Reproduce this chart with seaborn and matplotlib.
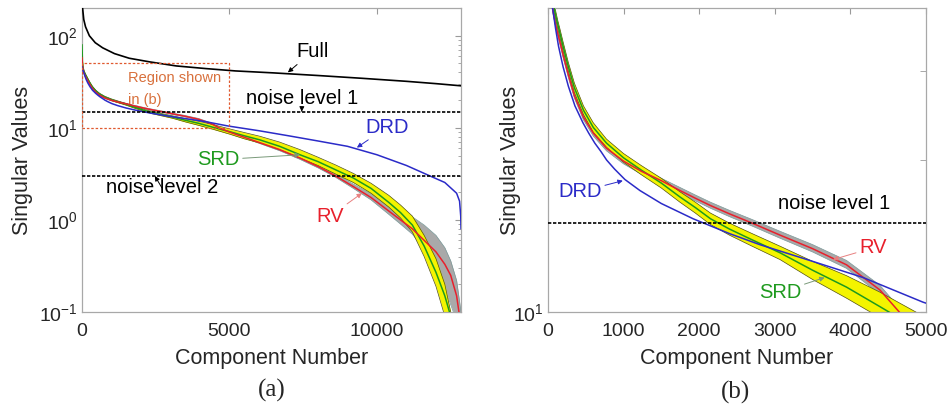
import matplotlib
matplotlib.use("Agg")
import matplotlib.pyplot as plt
import seaborn as sns
from matplotlib.ticker import NullFormatter, FixedLocator, LogLocator
from matplotlib.patches import Rectangle

sns.set_style("white")
plt.rcParams['font.family'] = ['Liberation Sans', 'DejaVu Sans']
plt.rcParams['mathtext.default'] = 'regular'
plt.rcParams['axes.unicode_minus'] = False

# ---- data ----
full_x = [0, 20, 60, 120, 250, 450, 700, 1100, 1600, 2300, 3200, 4200, 5200,
          6500, 8000, 9500, 11000, 12000, 12850]
full_y = [260, 200, 150, 125, 100, 84, 74, 64, 57, 52, 47, 44, 41.5,
          39.5, 37, 34.5, 32, 30.2, 28.6]

drd_x = [0, 20, 40, 66, 100, 140, 200, 270, 357, 463, 540, 620, 700, 776, 880,
         1018, 1217, 1500, 1920, 2400, 2800, 3500, 4170, 4960, 6000, 7000, 8000,
         9000, 10000, 11000, 11800, 12300, 12700, 12800, 12840, 12850]
drd_y = [46, 43.5, 41.5, 39.6, 36.5, 33.6, 30.6, 28.0, 25.6, 23.7, 22.6, 21.6, 20.8, 20.0, 19.2,
         18.3, 17.4, 16.4, 15.3, 14.3, 13.6, 12.6, 11.7, 10.46, 9.3, 8.2, 7.2,
         6.3, 5.1, 3.9, 3.0, 2.55, 1.95, 1.6, 1.1, 0.8]

# SRD / RV share one component grid
cx = [0, 15, 30, 50, 66, 100, 130, 160, 200, 270, 350, 470, 600, 775, 1000,
      1235, 1500, 1746, 1950, 2150, 2400, 2700, 3070, 3500, 3950, 4390, 4660,
      5000, 5500, 6030, 6700, 7390, 8000, 8600, 9200, 9800, 10400, 10800,
      11200, 11600, 12000, 12300, 12500, 12700, 12850]
srd_y = [80, 52, 46, 43, 41, 38.8, 37.1, 35.6, 33.6, 30.6, 27.8, 25.1, 23.2, 21.6, 20.2,
         19.1, 18.0, 16.9, 16.1, 15.3, 14.6, 13.9, 13.1, 12.1, 11.2, 10.25, 9.7,
         9.1, 8.2, 7.4, 6.3, 5.1, 4.3, 3.5, 2.85, 2.2, 1.55, 1.2,
         0.88, 0.52, 0.27, 0.15, 0.09, 0.05, 0.03]
srd_lo = [62, 49, 44.5, 42, 40.2, 38.1, 36.4, 34.9, 32.9, 30.0, 27.2, 24.6, 22.7, 21.2, 19.8,
          18.7, 17.6, 16.5, 15.7, 14.9, 14.2, 13.5, 12.7, 11.6, 10.65, 9.75, 9.2,
          8.55, 7.6, 6.85, 5.8, 4.7, 3.9, 3.15, 2.55, 1.95, 1.38, 1.05,
          0.74, 0.4, 0.19, 0.09, 0.05, 0.03, 0.02]
srd_hi = [88, 55, 47.5, 44, 41.8, 39.6, 37.8, 36.3, 34.3, 31.2, 28.4, 25.6, 23.7, 22.0, 20.6,
          19.5, 18.4, 17.3, 16.5, 15.7, 15.0, 14.3, 13.5, 12.6, 11.8, 10.95, 10.4,
          9.75, 8.9, 8.1, 7.0, 5.8, 4.8, 3.95, 3.2, 2.5, 1.85, 1.45,
          1.1, 0.68, 0.38, 0.2, 0.1, 0.06, 0.04]
rv_y = [58, 48, 44, 41, 39.5, 37.2, 35.6, 34.2, 32.3, 29.5, 26.8, 24.3, 22.6, 21.1, 19.9,
        19.0, 18.2, 17.4, 16.8, 16.25, 15.65, 15.0, 14.2, 13.35, 12.4, 11.06, 9.95,
        9.0, 7.9, 6.9, 5.8, 4.7, 3.8, 3.0, 2.3, 1.75, 1.25, 1.0,
        0.8, 0.6, 0.45, 0.33, 0.25, 0.15, 0.07]
rv_lo = [57, 47.4, 43.5, 40.5, 39.0, 36.8, 35.2, 33.8, 31.9, 29.1, 26.5, 24.0, 22.3, 20.85, 19.65,
         18.75, 18.0, 17.2, 16.6, 16.05, 15.45, 14.8, 14.0, 13.15, 12.2, 10.85, 9.8,
         8.85, 7.75, 6.75, 5.65, 4.55, 3.68, 2.9, 2.2, 1.65, 1.15, 0.9,
         0.7, 0.48, 0.3, 0.18, 0.12, 0.08, 0.05]
rv_hi = [59, 48.6, 44.5, 41.5, 40.0, 37.6, 36.0, 34.6, 32.7, 29.9, 27.1, 24.6, 22.9, 21.35, 20.15,
         19.25, 18.4, 17.65, 17.05, 16.5, 15.9, 15.25, 14.45, 13.6, 12.65, 11.3, 10.15,
         9.2, 8.1, 7.1, 6.0, 4.9, 4.0, 3.15, 2.45, 1.92, 1.55, 1.3,
         1.08, 0.88, 0.68, 0.5, 0.36, 0.22, 0.1]

noise1 = 15
noise2 = 3

BLUE = '#2b2bc8'
RED = '#e8202c'
GREEN = '#1e9a1e'
YELLOW = '#f4f400'
GREY = '#a9a9a9'


def draw_curves(ax):
    ax.fill_between(cx, rv_lo, rv_hi, color=GREY, lw=0, zorder=1)
    sns.lineplot(x=cx, y=rv_lo, ax=ax, color='#7a9a9a', lw=0.5, zorder=1.5)
    sns.lineplot(x=cx, y=rv_hi, ax=ax, color='#7a9a9a', lw=0.5, zorder=1.5)
    ax.fill_between(cx, srd_lo, srd_hi, color=YELLOW, lw=0, zorder=2)
    sns.lineplot(x=cx, y=srd_lo, ax=ax, color='#505010', lw=0.5, zorder=2.5)
    sns.lineplot(x=cx, y=srd_hi, ax=ax, color='#505010', lw=0.5, zorder=2.5)
    sns.lineplot(x=cx, y=srd_y, ax=ax, color=GREEN, lw=1.1, zorder=3)
    sns.lineplot(x=cx, y=rv_y, ax=ax, color=RED, lw=1.1, zorder=3.5)
    sns.lineplot(x=drd_x, y=drd_y, ax=ax, color=BLUE, lw=1.1, zorder=4)
    sns.lineplot(x=full_x, y=full_y, ax=ax, color='black', lw=1.2, zorder=4)


def note(ax, txt, xytext, xy, color, arrow=None):
    ax.annotate(txt, xy=xy, xytext=xytext, color=color, fontsize=14.5,
                ha='center', va='center', zorder=6,
                arrowprops=dict(arrowstyle='-|>', color=arrow or color, lw=0.7,
                                mutation_scale=7, shrinkA=0, shrinkB=0))


def style(ax):
    ax.set_yscale('log')
    ax.tick_params(axis='both', which='both', direction='in', top=True, right=True,
                   color='#9a9a9a', labelsize=14)
    ax.tick_params(axis='x', which='major', length=4, pad=8)
    ax.tick_params(axis='y', which='major', length=4, pad=3)
    ax.tick_params(axis='y', which='minor', length=2.5)
    for s in ax.spines.values():
        s.set_color('#a8a8a8')
        s.set_linewidth(0.9)
    ax.yaxis.set_minor_formatter(NullFormatter())
    ax.set_xlabel('Component Number', fontsize=15.5, labelpad=6)
    ax.set_ylabel('Singular Values', fontsize=15.5)


fig = plt.figure(figsize=(9.49, 4.08), dpi=100)
ax1 = fig.add_axes([0.0864, 0.2353, 0.3994, 0.745])
ax2 = fig.add_axes([0.5774, 0.2353, 0.3983, 0.745])

# ---- (a) ----
draw_curves(ax1)
ax1.axhline(noise1, color='black', ls=(0, (2, 1)), lw=1.2, zorder=5)
ax1.axhline(noise2, color='black', ls=(0, (2, 1)), lw=1.2, zorder=5)
ax1.add_patch(Rectangle((0, 10), 5000, 40, fill=False, ls=(0, (2, 1.5)),
                        ec='#e05a30', lw=0.9, zorder=5))
ax1.text(1560, 35, 'Region shown', color='#d8703c', fontsize=10.5, va='center', ha='left')
ax1.text(1560, 20, 'in (b)', color='#d8703c', fontsize=10.5, va='center', ha='left')
style(ax1)
ax1.set_xlim(0, 12850)
ax1.set_ylim(0.1, 200)
ax1.set_xticks([0, 5000, 10000])
ax1.yaxis.set_major_locator(FixedLocator([0.1, 1, 10, 100]))
ax1.yaxis.set_minor_locator(LogLocator(base=10, subs=range(2, 10)))
ax1.yaxis.set_label_coords(-0.13, 0.5)
note(ax1, 'Full', (7800, 67), (6980, 40), 'black')
note(ax1, 'noise level 1', (7460, 21), (7450, 15), 'black')
note(ax1, 'noise level 2', (2710, 2.23), (2470, 3.0), 'black')
note(ax1, 'DRD', (10340, 10.2), (9320, 6.1), BLUE)
note(ax1, 'SRD', (4620, 4.5), (7390, 5.1), GREEN, '#7a9a7a')
note(ax1, 'RV', (8410, 1.1), (9490, 1.95), RED, '#e88080')

# ---- (b) ----
draw_curves(ax2)
ax2.axhline(noise1, color='black', ls=(0, (2, 1)), lw=1.2, zorder=5)
style(ax2)
ax2.set_xlim(0, 5000)
ax2.set_ylim(10, 40)
ax2.set_xticks(range(0, 5001, 1000))
ax2.yaxis.set_major_locator(FixedLocator([10]))
ax2.yaxis.set_minor_locator(FixedLocator([20, 30]))
ax2.tick_params(axis='y', which='minor', length=4)
ax2.yaxis.set_label_coords(-0.072, 0.5)
note(ax2, 'DRD', (423, 17.3), (990, 18.2), BLUE)
note(ax2, 'noise level 1', (3780, 16.4), (3780, 16.4), 'black')
note(ax2, 'RV', (4300, 13.4), (3770, 12.7), RED, '#e88080')
note(ax2, 'SRD', (3070, 10.95), (3660, 11.7), GREEN, '#7a9a7a')

fig.text(272 / 949, 1 - 390 / 408, '(a)', ha='center', va='center', fontsize=18,
         family=['Liberation Serif', 'DejaVu Serif'])
fig.text(735 / 949, 1 - 392 / 408, '(b)', ha='center', va='center', fontsize=18,
         family=['Liberation Serif', 'DejaVu Serif'])

fig.savefig('out.png', dpi=100)
